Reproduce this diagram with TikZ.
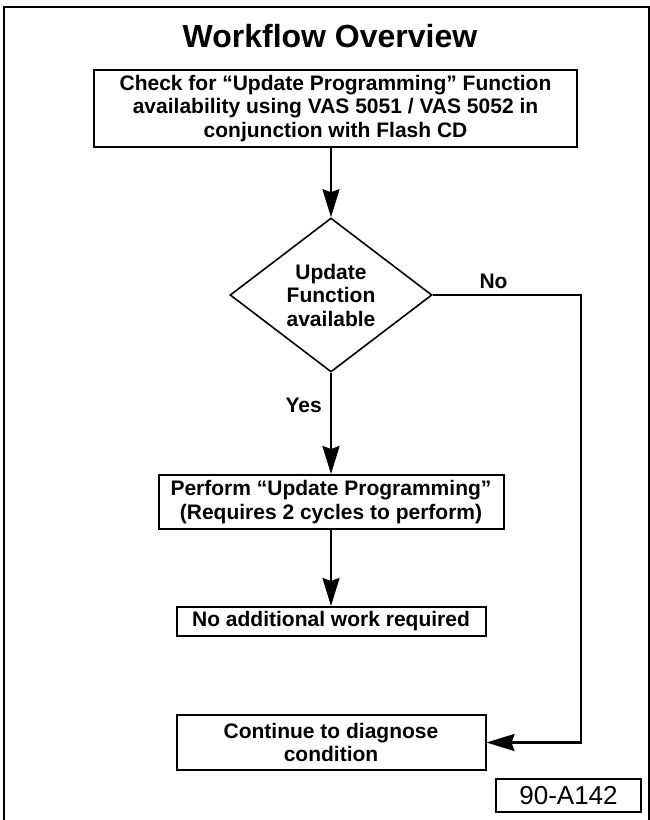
\documentclass[tikz,border=0pt]{standalone}
\usepackage{fontspec}
\setmainfont{Liberation Sans}
\usetikzlibrary{shapes.geometric,arrows.meta}

\begin{document}
\begin{tikzpicture}[x=1pt,y=-1pt,
  box/.style={draw, line width=2pt, align=center, inner sep=0pt, font=\fontsize{21}{23.5}\selectfont\bfseries},
  decision/.style={draw, diamond, line width=1.6pt, align=center, inner sep=0pt, minimum width=202pt, minimum height=154pt, font=\fontsize{21}{23.5}\selectfont\bfseries},
  flow/.style={line width=2.4pt, -{Stealth[length=28pt,width=17pt,inset=3pt]}},
  lbl/.style={font=\fontsize{21}{23.5}\selectfont\bfseries, inner sep=2pt}]
  \useasboundingbox (0,0) rectangle (650,820);
  \draw[line width=2pt] (4,820) -- (4,7) -- (648.5,7) -- (648.5,820);
  \node[anchor=base, font=\fontsize{32}{36}\selectfont\bfseries] (title) at (330,47) {Workflow Overview};
  \node[box, minimum width=483pt, minimum height=77pt] (check) at (335.5,108.5) {Check for “Update Programming” Function\\availability using VAS 5051 / VAS 5052 in\\conjunction with Flash CD};
  \node[decision] (avail) at (331,295) {Update\\Function\\available};
  \node[box, minimum width=345pt, minimum height=54pt] (perform) at (331,502) {Perform “Update Programming”\\(Requires 2 cycles to perform)};
  \node[box, minimum width=309pt, minimum height=29pt] (done) at (331,621.5) {No additional work required};
  \node[box, minimum width=309pt, minimum height=55pt] (diag) at (331,742.5) {Continue to diagnose\\condition};
  \node[draw, line width=1.6pt, minimum width=145pt, minimum height=33pt, inner sep=0pt, font=\fontsize{26}{30}\selectfont] (figno) at (568.5,795.5) {90-A142};
  \coordinate (turn) at (581,295);
  \draw[flow] (check.south -| avail.north) -- (avail.north);
  \draw[flow] (avail.south) -- node[lbl, left=6pt, pos=0.32] (yes) {Yes} (perform.north);
  \draw[flow] (perform.south) -- (done.north);
  \draw[flow] (avail.east) -- node[lbl, above=3pt, pos=0.41] (no) {No} (turn) |- (diag.east);
\end{tikzpicture}
\end{document}
